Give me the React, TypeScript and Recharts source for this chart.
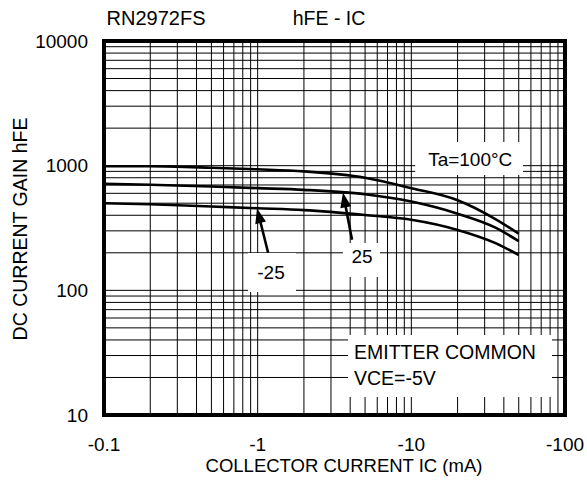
import React from 'react';
import {
  LineChart,
  Line,
  XAxis,
  YAxis,
  CartesianGrid,
  ReferenceArea,
  ReferenceLine,
  Customized,
} from 'recharts';

// ---- data ----
const currents = [0.1, 0.2, 0.5, 1, 2, 5, 10, 20, 35, 50];
const hfeTa100 = [990, 988, 962, 935, 900, 800, 660, 528, 375, 285];
const hfeTa25 = [715, 703, 680, 660, 640, 590, 515, 412, 320, 248];
const hfeTaM25 = [500, 490, 470, 455, 440, 402, 368, 305, 240, 192];

const xDecades = [0.1, 1, 10];
const yDecades = [10, 100, 1000];
const multipliers = [1, 2, 3, 4, 5, 6, 7, 8, 9];
const xMajorTicks = [0.1, 1, 10, 100];
const yMajorTicks = [10, 100, 1000, 10000];

const xTicks = [...xDecades.flatMap((d) => multipliers.map((m) => +(d * m).toPrecision(6))), 100];
const yTicks = [...yDecades.flatMap((d) => multipliers.map((m) => d * m)), 10000];

const tableData = currents.map((c, i) => ({
  ic: c,
  t100: hfeTa100[i],
  t25: hfeTa25[i],
  tm25: hfeTaM25[i],
}));

const FONT = '"Liberation Sans", Arial, Helvetica, sans-serif';

const isMajor = (v: number, majors: number[]) =>
  majors.some((m) => Math.abs(v - m) / m < 1e-6);

const Arrow = (props: any) => {
  const { x1, y1, x2, y2 } = props;
  if ([x1, y1, x2, y2].some((v) => v == null || isNaN(v))) return null;
  const dx = x2 - x1;
  const dy = y2 - y1;
  const len = Math.sqrt(dx * dx + dy * dy) || 1;
  const ux = dx / len;
  const uy = dy / len;
  const nx = -uy;
  const ny = ux;
  const L = 15;
  const W = 5.5;
  const bx = x2 - ux * L;
  const by = y2 - uy * L;
  return (
    <g>
      <line x1={x1} y1={y1} x2={bx + ux * 3} y2={by + uy * 3} stroke="#000" strokeWidth={2.6} />
      <polygon
        points={`${x2},${y2} ${bx + nx * W},${by + ny * W} ${bx - nx * W},${by - ny * W}`}
        fill="#000"
      />
    </g>
  );
};

const Titles = () => (
  <g fontFamily={FONT} fill="#000">
    <text x={156} y={25} fontSize={20} textAnchor="middle">RN2972FS</text>
    <text x={329} y={25} fontSize={19.5} textAnchor="middle">hFE - IC</text>
    <text
      x={0}
      y={0}
      fontSize={19.5}
      textAnchor="middle"
      transform="translate(27,229) rotate(-90)"
    >
      DC CURRENT GAIN hFE
    </text>
    <text x={344} y={472} fontSize={18.5} textAnchor="middle">COLLECTOR CURRENT IC (mA)</text>
  </g>
);

export default function App() {
  return (
    <div style={{ position: 'absolute', left: 0, top: 0, background: '#fff' }}>
      <LineChart
        width={587}
        height={491}
        data={tableData}
        margin={{ top: 41, right: 22, bottom: 0, left: 0 }}
      >
        <CartesianGrid stroke="#000" strokeWidth={1} />
        <XAxis
          dataKey="ic"
          type="number"
          scale="log"
          domain={[0.1, 100]}
          allowDataOverflow
          ticks={xTicks}
          interval={0}
          height={76}
          axisLine={false}
          tickLine={false}
          tickSize={0}
          tickMargin={23}
          tick={{ fontSize: 19, fill: '#000', fontFamily: FONT }}
          tickFormatter={(v: number) => (isMajor(v, xMajorTicks) ? `-${v}` : '')}
        />
        <YAxis
          type="number"
          scale="log"
          domain={[10, 10000]}
          allowDataOverflow
          ticks={yTicks}
          interval={0}
          width={104}
          axisLine={false}
          tickLine={false}
          tickSize={0}
          tickMargin={16}
          tick={{ fontSize: 19, fill: '#000', fontFamily: FONT }}
          tickFormatter={(v: number) => (isMajor(v, yMajorTicks) ? `${v}` : '')}
        />

        {/* annotation boxes */}
        <ReferenceArea
          x1={10.6}
          x2={53.3}
          y1={841}
          y2={1549}
          fill="#fff"
          fillOpacity={1}
          stroke="none"
          label={(p: any) => {
            const vb = p.viewBox;
            return (
              <text x={vb.x + 55} y={vb.y + 24} fontSize={19} fontFamily={FONT} fill="#000" textAnchor="middle">
                Ta=100°C
              </text>
            );
          }}
        />
        <ReferenceArea
          x1={3.59}
          x2={6.25}
          y1={128}
          y2={240}
          fill="#fff"
          fillOpacity={1}
          stroke="none"
          label={(p: any) => {
            const vb = p.viewBox;
            return (
              <text x={vb.x + 19} y={vb.y + 20} fontSize={19} fontFamily={FONT} fill="#000" textAnchor="middle">
                25
              </text>
            );
          }}
        />
        <ReferenceArea
          x1={0.865}
          x2={1.776}
          y1={97}
          y2={199}
          fill="#fff"
          fillOpacity={1}
          stroke="none"
          label={(p: any) => {
            const vb = p.viewBox;
            return (
              <text x={vb.x + 23} y={vb.y + 26} fontSize={19} fontFamily={FONT} fill="#000" textAnchor="middle">
                -25
              </text>
            );
          }}
        />
        <ReferenceArea
          x1={3.87}
          x2={82.3}
          y1={13.95}
          y2={43.8}
          fill="#fff"
          fillOpacity={1}
          stroke="none"
          label={(p: any) => {
            const vb = p.viewBox;
            return (
              <g fontSize={19.5} fontFamily={FONT} fill="#000">
                <text x={vb.x + 6} y={vb.y + 24}>EMITTER COMMON</text>
                <text x={vb.x + 6} y={vb.y + 50}>VCE=-5V</text>
              </g>
            );
          }}
        />

        <Line dataKey="t100" type="monotone" stroke="#000" strokeWidth={2.6} dot={false} isAnimationActive={false} />
        <Line dataKey="t25" type="monotone" stroke="#000" strokeWidth={2.6} dot={false} isAnimationActive={false} />
        <Line dataKey="tm25" type="monotone" stroke="#000" strokeWidth={2.6} dot={false} isAnimationActive={false} />

        {/* arrows */}
        <ReferenceLine
          segment={[
            { x: 1.17, y: 200 },
            { x: 0.99, y: 455 },
          ]}
          shape={Arrow}
        />
        <ReferenceLine
          segment={[
            { x: 4.11, y: 254 },
            { x: 3.59, y: 610 },
          ]}
          shape={Arrow}
        />

        {/* frame */}
        <ReferenceArea
          x1={0.1}
          x2={100}
          y1={10}
          y2={10000}
          fill="none"
          stroke="#000"
          strokeWidth={4}
        />
        <Customized component={Titles} />
      </LineChart>
    </div>
  );
}
